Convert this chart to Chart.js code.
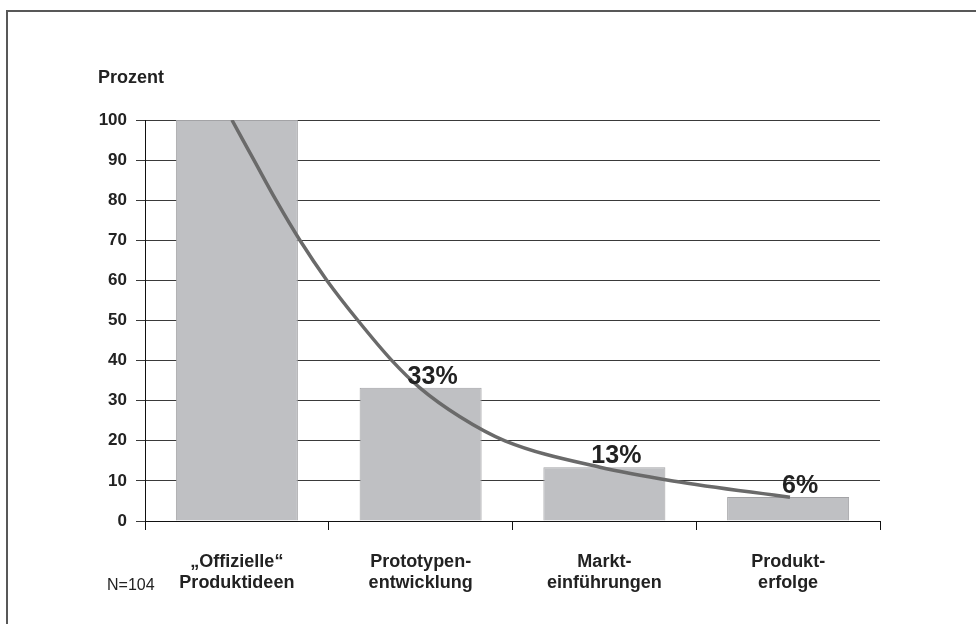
<!DOCTYPE html>
<html>
<head>
<meta charset="utf-8">
<script src="https://cdn.jsdelivr.net/npm/chart.js@4"></script>
<style>
  html, body { margin: 0; padding: 0; background: #fff; }
  #wrap { position: relative; width: 976px; height: 624px; overflow: hidden; }
  #frame { position: absolute; left: 6px; top: 10px; width: 1000px; height: 700px;
           border-top: 2px solid #585858; border-left: 2px solid #585858; pointer-events: none; }
  canvas { position: absolute; left: 0; top: 0; }
</style>
</head>
<body>
<div id="wrap">
  <canvas id="c" width="976" height="624"></canvas>
  <div id="frame"></div>
</div>
<script>
// ---- data ----
const categories = [["\u201EOffizielle\u201C", "Produktideen"], ["Prototypen-", "entwicklung"], ["Markt-", "einf\u00FChrungen"], ["Produkt-", "erfolge"]];
const barValues = [100, 33.2, 13.4, 6];
const barLabels = ["", "33%", "13%", "6%"];
const yTicks = [0, 10, 20, 30, 40, 50, 60, 70, 80, 90, 100];
// trend curve (x in category units, y in percent)
const curveX = [-0.027, 0.093, 0.213, 0.343, 0.490, 0.659, 0.844, 0.996, 1.214, 1.459, 1.976, 2.373, 3.010];
const curveY = [100, 90, 80, 70, 60, 50, 40, 33.2, 26, 20, 13.4, 10, 5.9];
const yTitle = "Prozent";
const footNote = "N=104";

const FONT = "'Liberation Sans', Arial, sans-serif";

const textPlugin = {
  id: 'texts',
  afterDatasetsDraw(chart) {
    const ctx = chart.ctx;
    ctx.save();
    ctx.fillStyle = '#222';
    ctx.textBaseline = 'alphabetic';
    ctx.textAlign = 'left';
    ctx.font = 'bold 18px ' + FONT;
    ctx.fillText(yTitle, 98, 83);
    ctx.font = '16px ' + FONT;
    ctx.fillText(footNote, 107, 590);
    const meta = chart.getDatasetMeta(0);
    ctx.font = 'bold 25px ' + FONT;
    ctx.textAlign = 'center';
    meta.data.forEach((bar, i) => {
      if (!barLabels[i]) return;
      ctx.fillText(barLabels[i], bar.x + 12, bar.y - 4);
    });
    ctx.restore();
  }
};

new Chart(document.getElementById('c'), {
  type: 'bar',
  data: {
    labels: categories,
    datasets: [
      {
        type: 'bar',
        data: barValues,
        backgroundColor: '#bfc0c3',
        borderColor: '#a3a3a6',
        borderWidth: 1,
        grouped: false,
        categoryPercentage: 1,
        barPercentage: 0.664,
        order: 2,
        xAxisID: 'x', yAxisID: 'y'
      },
      {
        type: 'line',
        data: curveX.map((x, i) => ({ x: x, y: curveY[i] })),
        borderColor: '#6a6a6a',
        borderWidth: 3.5,
        pointRadius: 0,
        fill: false,
        cubicInterpolationMode: 'monotone',
        order: 1,
        xAxisID: 'xc', yAxisID: 'y'
      }
    ]
  },
  options: {
    responsive: false,
    animation: false,
    events: [],
    layout: { padding: { top: 120, right: 96, left: 0, bottom: 0 } },
    plugins: { legend: { display: false }, tooltip: { enabled: false } },
    scales: {
      x: {
        type: 'category',
        offset: true,
        grid: { offset: true, drawOnChartArea: false, drawTicks: true, tickLength: 9, color: '#111', lineWidth: 1 },
        border: { color: '#111', width: 1 },
        ticks: { color: '#222', font: { family: FONT, size: 18, weight: 'bold', lineHeight: 1.2 }, padding: 21, maxRotation: 0, autoSkip: false },
        afterFit(s) { s.height = 103; }
      },
      xc: { type: 'linear', display: false, offset: false, grid: { offset: false }, min: -0.5, max: 3.5 },
      y: {
        min: 0, max: 100,
        afterBuildTicks(s) { s.ticks = yTicks.map(v => ({ value: v })); },
        grid: { color: '#3a3a3a', lineWidth: 1, drawTicks: true, tickLength: 9 },
        border: { color: '#111', width: 1 },
        ticks: { color: '#222', font: { family: FONT, size: 17, weight: 'bold' }, padding: 9 },
        afterFit(s) { s.width = 145; }
      }
    }
  },
  plugins: [textPlugin]
});
</script>
</body>
</html>
